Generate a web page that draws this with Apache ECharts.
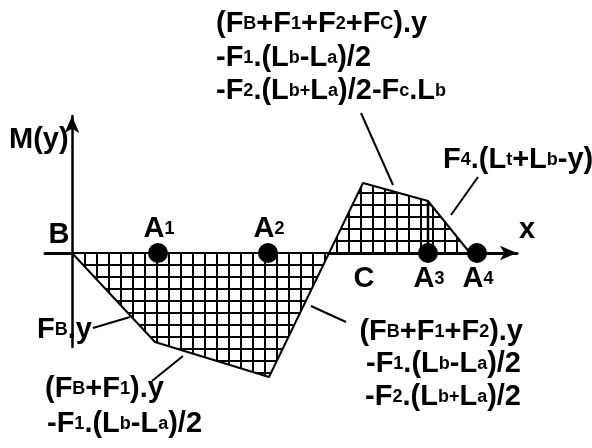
<!DOCTYPE html>
<html>
<head>
<meta charset="utf-8">
<script src="https://cdn.jsdelivr.net/npm/echarts@6/dist/echarts.min.js"></script>
<style>
html, body { margin: 0; padding: 0; background: #fff; }
#chart { width: 592px; height: 448px; }
</style>
</head>
<body>
<div id="chart"></div>
<script>
// bending moment along the beam (x from B, M(y) up is positive)
const momentX = [0, 83, 197, 291, 356, 398];
const momentY = [0, -89, -124, 70, 52, 0];

// supports A1..A4 on the axis
const supportX = [86, 196, 356, 405];
const supportNames = ['1', '2', '3', '4'];

// leader lines from the formulas to the curve
const leaderFrom = [[21, -75], [80, -128], [239, -53], [289, 140], [406, 76]];
const leaderTo = [[58, -64], [111, -103], [274, -69], [321, 68], [379, 38]];

// "_X" = one subscript character
function rt(s) {
  let out = '', buf = '';
  for (let i = 0; i < s.length; i++) {
    if (s[i] === '_') {
      if (buf) { out += '{m|' + buf + '}'; buf = ''; }
      out += '{s|' + s[i + 1] + '}';
      i++;
    } else {
      buf += s[i];
    }
  }
  if (buf) out += '{m|' + buf + '}';
  return out;
}

const FONT = 'Liberation Sans, Arial, sans-serif';
const RICH = {
  m: { fontSize: 29, fontWeight: 'bold', fontFamily: FONT, lineHeight: 34, fill: '#000', color: '#000', verticalAlign: 'middle' },
  s: { fontSize: 18, fontWeight: 'bold', fontFamily: FONT, lineHeight: 30, fill: '#000', color: '#000', verticalAlign: 'middle' }
};

function label(txt, x, y, align) {
  return {
    type: 'text', x: x, y: y, z: 100,
    style: { text: rt(txt), rich: RICH, align: align || 'left', verticalAlign: 'middle' }
  };
}

function hatch() {
  const c = document.createElement('canvas');
  c.width = 12; c.height = 12;
  const g = c.getContext('2d');
  g.fillStyle = '#fff';
  g.fillRect(0, 0, 12, 12);
  g.fillStyle = '#000';
  g.fillRect(0, 0, 12, 2);
  g.fillRect(0, 0, 2, 12);
  return c;
}

const chart = echarts.init(document.getElementById('chart'));

const leaderSeries = leaderFrom.map((p, i) => ({
  type: 'line',
  data: [p, leaderTo[i]],
  symbol: 'none',
  clip: false,
  silent: true,
  lineStyle: { color: '#000', width: 2 },
  z: 4
}));

chart.setOption({
  animation: false,
  backgroundColor: '#fff',
  grid: { left: 45, top: 116, width: 472, height: 231 },
  xAxis: {
    type: 'value', min: -27, max: 445,
    axisLine: { onZero: true, symbol: ['none', 'arrow'], symbolSize: [11, 17], lineStyle: { color: '#000', width: 3 } },
    axisTick: { show: false }, axisLabel: { show: false }, splitLine: { show: false }
  },
  yAxis: {
    type: 'value', min: -94, max: 137,
    axisLine: { show: true, onZero: true, symbol: ['none', 'arrow'], symbolSize: [11, 17], lineStyle: { color: '#000', width: 2.5 } },
    axisTick: { show: false }, axisLabel: { show: false }, splitLine: { show: false }
  },
  series: [
    {
      type: 'line',
      data: momentX.map((x, i) => [x, momentY[i]]),
      symbol: 'none',
      clip: false,
      lineStyle: { color: '#000', width: 2 },
      areaStyle: { color: { image: hatch(), repeat: 'repeat' }, opacity: 1 },
      z: 2
    },
    {
      type: 'line',
      data: [[momentX[4], 0], [momentX[4], momentY[4]]],
      symbol: 'none',
      lineStyle: { color: '#000', width: 2.5 },
      z: 3
    },
    {
      type: 'scatter',
      data: supportX.map((x, i) => ({
        value: [x, 0],
        label: { offset: i < 2 ? [1, -24] : [1, 26], formatter: '{m|A}{s|' + supportNames[i] + '}' }
      })),
      symbolSize: 20,
      itemStyle: { color: '#000', opacity: 1 },
      label: { show: true, position: 'inside', color: '#000', rich: RICH },
      z: 5
    }
  ].concat(leaderSeries),
  graphic: [
    label('(F_B+F_1+F_2+F_C).y', 216, 24),
    label('-F_1.(L_b-L_a)/2', 216, 58),
    label('-F_2.(L_b_+L_a)/2-F_c.L_b', 216, 91),
    label('F_4.(L_t+L_b-y)', 443, 160),
    label('M(y)', 9, 140),
    label('F_B.y', 37, 330),
    label('(F_B+F_1).y', 45, 389),
    label('-F_1.(L_b-L_a)/2', 47, 424),
    label('(F_B+F_1+F_2).y', 523, 332, 'right'),
    label('-F_1.(L_b-L_a)/2', 521, 364, 'right'),
    label('-F_2.(L_b_+L_a)/2', 521, 397, 'right'),
    label('B', 59, 235, 'center'),
    label('C', 364, 279, 'center'),
    label('x', 527, 230, 'center')
  ]
});
</script>
</body>
</html>
